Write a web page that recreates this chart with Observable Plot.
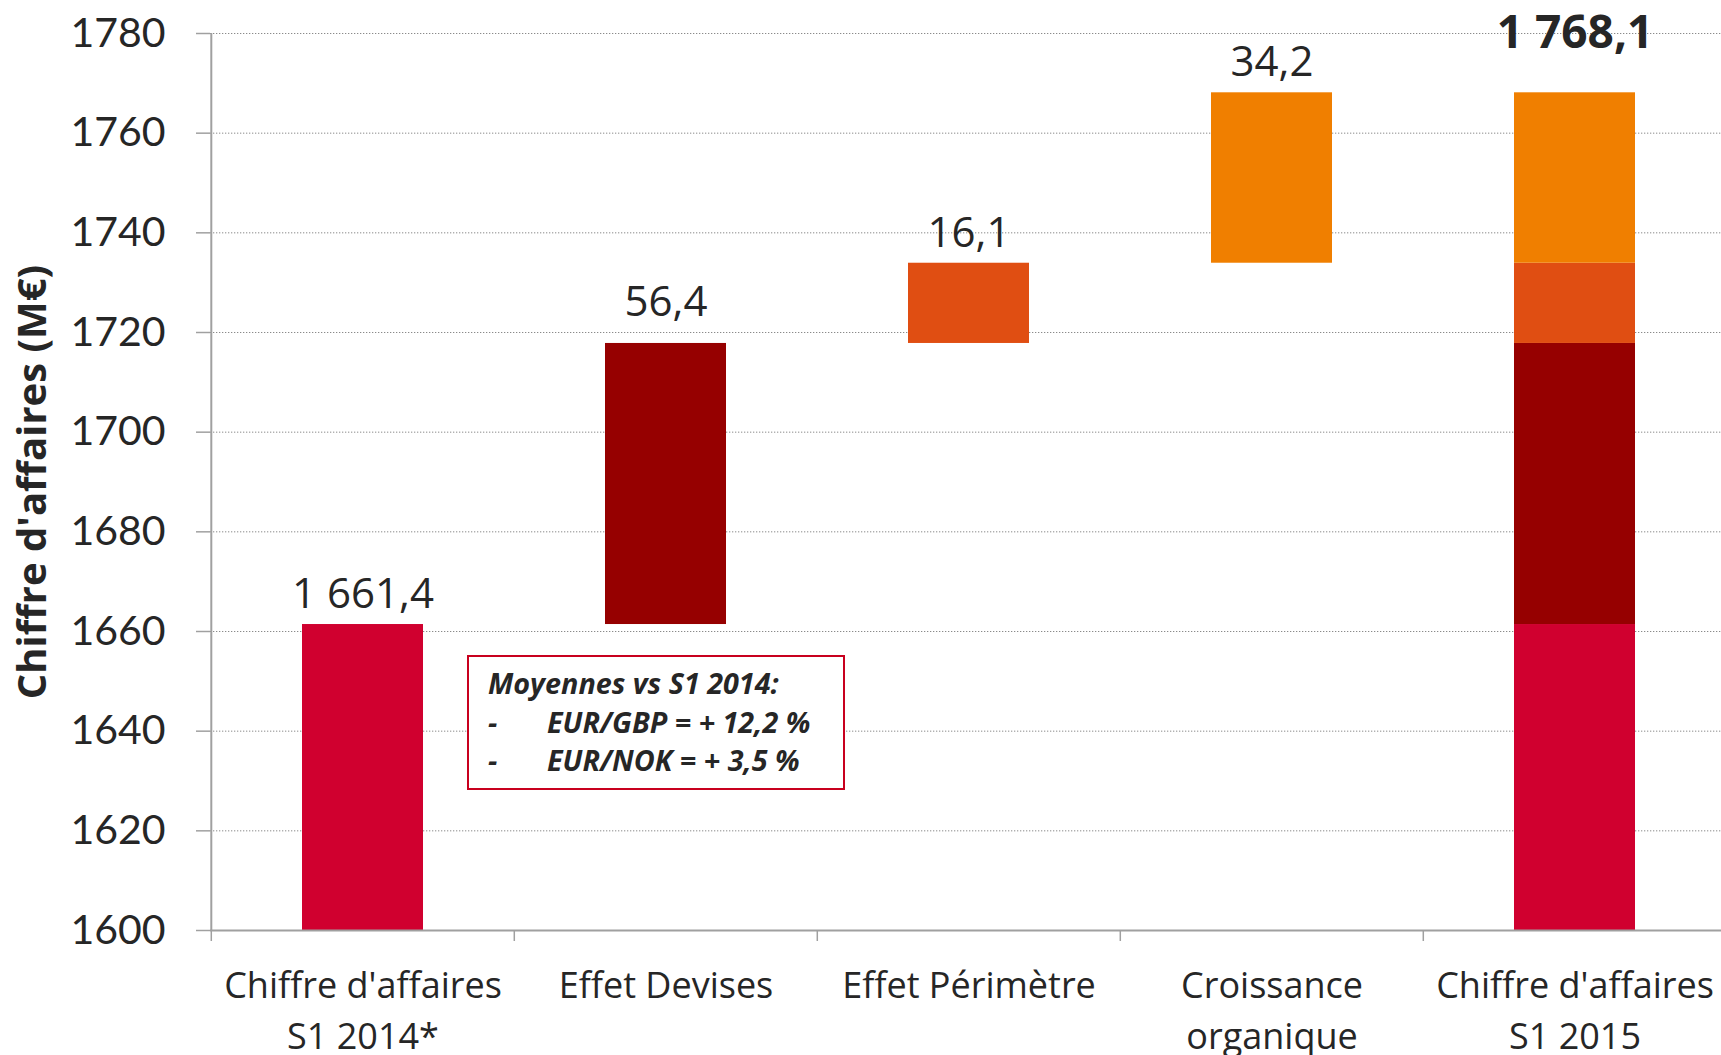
<!DOCTYPE html>
<html>
<head>
<meta charset="utf-8">
<script src="https://cdn.jsdelivr.net/npm/d3@7"></script>
<script src="https://cdn.jsdelivr.net/npm/@observablehq/plot@0.6"></script>
<style>
  html, body { margin: 0; padding: 0; background: #ffffff; }
  #wrap { position: relative; width: 1721px; height: 1055px; overflow: hidden; }
  #note {
    position: absolute; left: 467px; top: 655px; width: 378px; height: 135px;
    border: 2px solid #C8001E; background: #ffffff;
    font-family: "Open Sans", sans-serif; font-weight: 700; font-style: italic;
    font-size: 28.75px; line-height: 38.5px; color: #262626;
    padding: 7px 0 0 19px; box-sizing: border-box; white-space: nowrap;
  }
  #note .dash { display: inline-block; width: 59px; }
</style>
</head>
<body>
<div id="wrap"></div>
<script>
// ---- data ----
const categories = ["Chiffre d'affaires\nS1 2014*", "Effet Devises", "Effet Périmètre", "Croissance\norganique", "Chiffre d'affaires\nS1 2015"];
const startValue = 1661.4;
const effects = [56.4, 16.1, 34.2];
const totalValue = 1768.1;
const valueLabels = ["1 661,4", "56,4", "16,1", "34,2", "1 768,1"];
const segmentColors = ["#D0002F", "#960000", "#E04E12", "#F07F00"];
const yTicks = [1600, 1620, 1640, 1660, 1680, 1700, 1720, 1740, 1760, 1780];
const yTitle = "Chiffre d'affaires (M€)";
const noteTitle = "Moyennes vs S1 2014:";
const noteLines = ["EUR/GBP = + 12,2 %", "EUR/NOK = + 3,5 %"];

// ---- derived tables ----
const yMin = yTicks[0], yMax = yTicks[yTicks.length - 1];
const segs = [];
const labelRows = [];
segs.push({cat: categories[0], y1: yMin, y2: startValue, color: segmentColors[0]});
segs.push({cat: categories[4], y1: yMin, y2: startValue, color: segmentColors[0]});
labelRows.push({cat: categories[0], y: startValue, text: valueLabels[0], i: 0});
let cum = startValue;
effects.forEach((e, i) => {
  segs.push({cat: categories[i + 1], y1: cum, y2: cum + e, color: segmentColors[i + 1]});
  segs.push({cat: categories[4], y1: cum, y2: cum + e, color: segmentColors[i + 1]});
  labelRows.push({cat: categories[i + 1], y: cum + e, text: valueLabels[i + 1], i: i + 1});
  cum += e;
});
const totalRow = [{cat: categories[4], y: totalValue, text: valueLabels[4]}];

// ---- layout ----
const W = 1721, H = 1055;
const mL = 210, mT = 33, mB = 125;
const xRange = [mL, 1727];
const step = (xRange[1] - xRange[0]) / categories.length;

const chart = Plot.plot({
  width: W, height: H,
  marginLeft: mL, marginRight: 0, marginTop: mT, marginBottom: mB,
  style: {fontFamily: "Open Sans", fontSize: "36px", color: "#262626", background: "#ffffff"},
  x: {domain: categories, range: xRange, paddingInner: 0.6, paddingOuter: 0.3, label: null},
  y: {domain: [yMin, yMax], label: null},
  color: {type: "identity"},
  marks: [
    Plot.gridY(yTicks, {stroke: "#8a8a8a", strokeOpacity: 1, strokeWidth: 1, strokeDasharray: "1.3,1.7"}),
    Plot.barY(segs, {x: "cat", y1: "y1", y2: "y2", fill: "color"}),
    Plot.ruleY([yMin], {stroke: "#a0a0a0", strokeWidth: 2}),
    Plot.ruleX([categories[0]], {x: d => d, y1: yMin, y2: yMax, dx: -step / 2, stroke: "#a0a0a0", strokeWidth: 2}),
    Plot.axisY(yTicks, {tickSize: 14, tickPadding: 31, tickFormat: d => String(d), fontSize: 41, fontFamily: "Lato", stroke: "#a0a0a0", strokeWidth: 1.5, fill: "#262626", dy: 0, label: null}),
    Plot.axisX({tickSize: 11, tickFormat: () => "", dx: -step / 2, stroke: "#a0a0a0", strokeWidth: 1.5, label: null}),
    Plot.axisX({tickSize: 0, tickPadding: 31, fontSize: 36, lineHeight: 1.42, fill: "#262626", label: null}),
    Plot.text(labelRows.filter(d => d.i !== 1), {x: "cat", y: "y", text: "text", dy: -30, fontSize: 42, fill: "#262626"}),
    Plot.text(labelRows.filter(d => d.i === 1), {x: "cat", y: "y", text: "text", dy: -41, fontSize: 42, fill: "#262626"}),
    Plot.text(totalRow, {x: "cat", y: "y", text: "text", dy: -60, fontSize: 46, fontWeight: "bold", fill: "#262626"}),
    Plot.text([yTitle], {frameAnchor: "left", textAnchor: "middle", rotate: -90, dx: -177, fontSize: 40, fontWeight: "bold", fill: "#262626"})
  ]
});

const wrap = document.getElementById("wrap");
wrap.appendChild(chart);

const note = document.createElement("div");
note.id = "note";
const l0 = document.createElement("div");
l0.textContent = noteTitle;
note.appendChild(l0);
noteLines.forEach(t => {
  const d = document.createElement("div");
  const dash = document.createElement("span");
  dash.className = "dash";
  dash.textContent = "-";
  d.appendChild(dash);
  d.appendChild(document.createTextNode(t));
  note.appendChild(d);
});
wrap.appendChild(note);
</script>
</body>
</html>
